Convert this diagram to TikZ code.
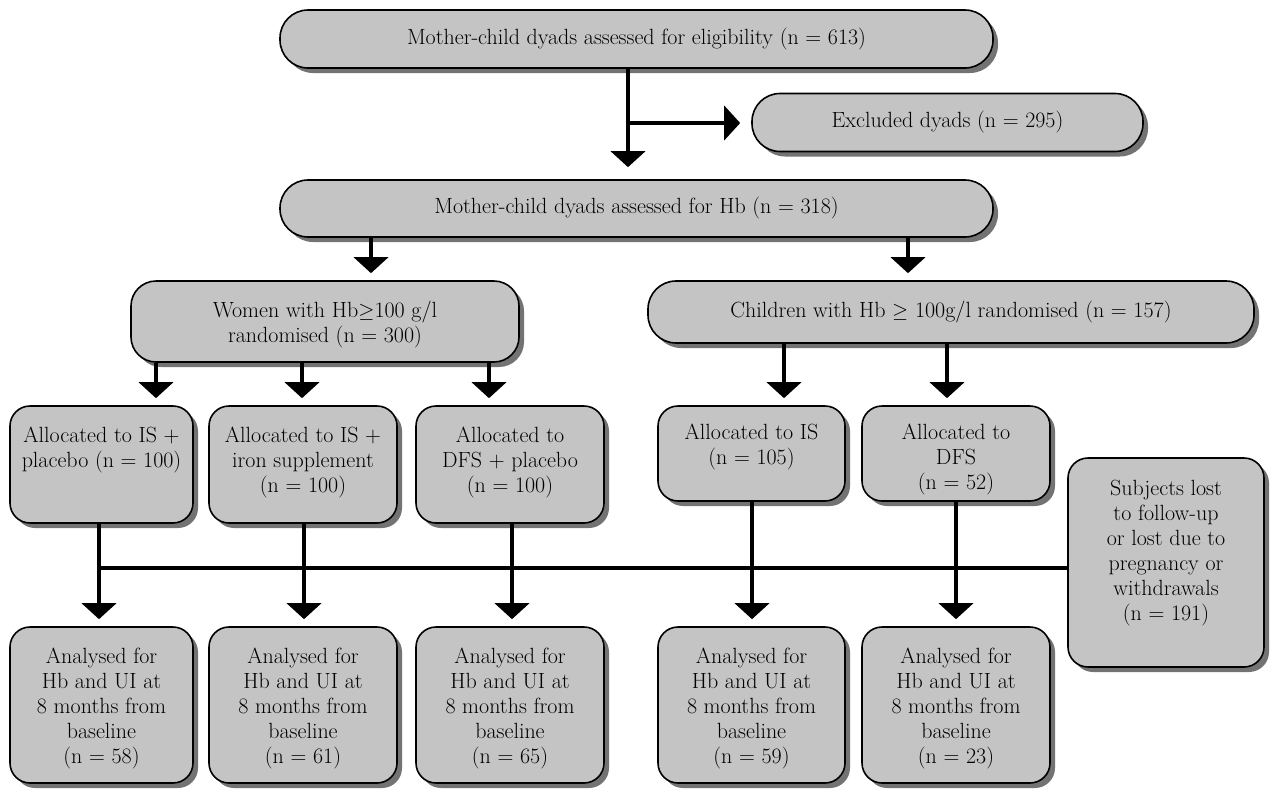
\documentclass[tikz,border=0pt]{standalone}
\usepackage{fontspec}
\usetikzlibrary{arrows.meta,shadows}
\newcommand{\bt}[4]{\parbox[c][#2pt][t]{#1pt}{\centering\rule{0pt}{#3pt}#4}}
\begin{document}
\begin{tikzpicture}[x=1pt,y=-1pt,
  font=\fontsize{22}{25}\selectfont,
  box/.style={draw=black, line width=1.6pt, fill=black!23, rounded corners=20pt, inner sep=0pt,
    drop shadow={shadow xshift=5pt, shadow yshift=-5pt, fill=black!55, opacity=1}},
  pill/.style={box, rounded corners=28pt},
  arr/.style={line width=4.5pt, -{Triangle[width=34pt,length=16pt]}, shorten >=7pt},
  ln/.style={line width=4.5pt}]
\fill[white] (0,0) rectangle (1271,788);
\useasboundingbox (0,0) rectangle (1271,788);
% boxes
\node[pill, minimum width=713pt, minimum height=58pt] (top) at (636.5,39) {Mother-child dyads assessed for eligibility (n = 613)};
\node[pill, minimum width=391pt, minimum height=58pt] (excl) at (947.5,122.5) {Excluded dyads (n = 295)};
\node[pill, minimum width=713pt, minimum height=57pt] (hb) at (636.5,208.5) {Mother-child dyads assessed for Hb (n = 318)};
\node[box, rounded corners=25pt] (women) at (325,321.5) {\bt{388}{81}{36}{Women with Hb$\geq$100 g/l\\randomised (n = 300)}};
\node[pill, minimum width=606pt, minimum height=62pt] (children) at (951,312) {Children with Hb $\geq$ 100g/l randomised (n = 157)};
\node[box] (a1) at (101.5,464.5) {\bt{183}{117}{36}{Allocated to IS +\\placebo (n = 100)}};
\node[box] (a2) at (303,464.5) {\bt{188}{117}{36}{Allocated to IS +\\iron supplement\\(n = 100)}};
\node[box] (a3) at (510,464.5) {\bt{188}{117}{36}{Allocated to\\DFS + placebo\\(n = 100)}};
\node[box] (a4) at (751.5,453.5) {\bt{187}{95}{33}{Allocated to IS\\(n = 105)}};
\node[box] (a5) at (956,453.5) {\bt{188}{95}{33}{Allocated to\\DFS\\(n = 52)}};
\node[box] (subj) at (1166,562.5) {\bt{196}{209}{37}{Subjects lost\\to follow-up\\or lost due to\\pregnancy or\\withdrawals\\(n = 191)}};
\node[box] (b1) at (101.5,705) {\bt{183}{156}{36}{Analysed for\\Hb and UI at\\8 months from\\baseline\\(n = 58)}};
\node[box] (b2) at (303,705) {\bt{188}{156}{36}{Analysed for\\Hb and UI at\\8 months from\\baseline\\(n = 61)}};
\node[box] (b3) at (510,705) {\bt{188}{156}{36}{Analysed for\\Hb and UI at\\8 months from\\baseline\\(n = 65)}};
\node[box] (b4) at (751.5,705) {\bt{187}{156}{36}{Analysed for\\Hb and UI at\\8 months from\\baseline\\(n = 59)}};
\node[box] (b5) at (956,705) {\bt{188}{156}{36}{Analysed for\\Hb and UI at\\8 months from\\baseline\\(n = 23)}};
% helper coordinates
\coordinate (c1) at (628,0);
\coordinate (br) at (628,123);
\coordinate (hw) at (371,0);
\coordinate (hc) at (908,0);
\coordinate (w1) at (156,0);
\coordinate (w2) at (302,0);
\coordinate (w3) at (489,0);
\coordinate (k1) at (784,0);
\coordinate (k2) at (947,0);
\coordinate (v1) at (99,0);
\coordinate (v2) at (304,0);
\coordinate (v3) at (512,0);
\coordinate (v4) at (752,0);
\coordinate (v5) at (956,0);
\coordinate (hl) at (96.75,568);
% connectors
\draw[arr, shorten >=12pt] (top.south -| c1) -- (hb.north -| c1);
\draw[arr, shorten >=11pt] (br) -- (br -| excl.west);
\draw[arr] (hb.south -| hw) -- (women.north -| hw);
\draw[arr] (hb.south -| hc) -- (children.north -| hc);
\draw[arr] (women.south -| w1) -- (a1.north -| w1);
\draw[arr] (women.south -| w2) -- (a2.north -| w2);
\draw[arr] (women.south -| w3) -- (a3.north -| w3);
\draw[arr] (children.south -| k1) -- (a4.north -| k1);
\draw[arr] (children.south -| k2) -- (a5.north -| k2);
\draw[arr] (a1.south -| v1) -- (b1.north -| v1);
\draw[arr] (a2.south -| v2) -- (b2.north -| v2);
\draw[arr] (a3.south -| v3) -- (b3.north -| v3);
\draw[arr] (a4.south -| v4) -- (b4.north -| v4);
\draw[arr] (a5.south -| v5) -- (b5.north -| v5);
\draw[ln] (hl) -- (hl -| subj.west);
\end{tikzpicture}
\end{document}
